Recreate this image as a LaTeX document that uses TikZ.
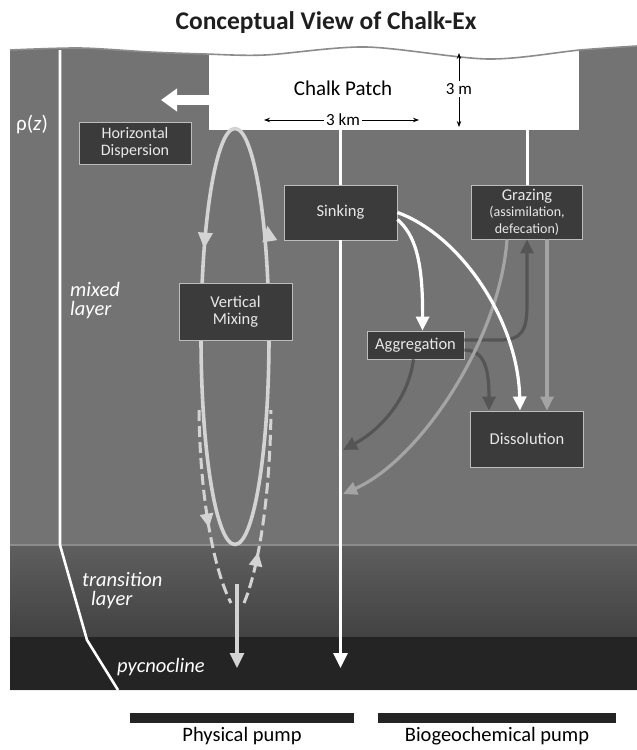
\documentclass[tikz,border=0pt]{standalone}
\usepackage{fontspec}
\setmainfont{Carlito}
\usetikzlibrary{arrows.meta,positioning,decorations.markings}

\definecolor{oceangray}{HTML}{737373}
\definecolor{boxfill}{HTML}{3B3B3B}
\definecolor{boxline}{HTML}{BDBDBD}
\definecolor{boxtext}{HTML}{E8E8E8}
\definecolor{mixgray}{HTML}{D3D3D3}
\definecolor{grazegray}{HTML}{A4A4A4}
\definecolor{agggray}{HTML}{555555}
\definecolor{deepgray}{HTML}{242424}
\definecolor{wavegray}{HTML}{8C8C8C}

\begin{document}
\begin{tikzpicture}
[x=1pt,y=-1pt,
process/.style={rectangle,draw=boxline,fill=boxfill,text=boxtext,line width=0.9pt,align=center,inner sep=0pt,font=\fontsize{16.5}{17}\selectfont},
layertext/.style={text=white,font=\fontsize{20.5}{19}\selectfont\itshape,align=left,inner sep=0pt},
stem/.style={white,line width=3pt},
flux/.style={white,line width=3.2pt,-{Triangle[length=14pt,width=13pt]}},
graze/.style={grazegray,line width=3.2pt,-{Triangle[length=14pt,width=13pt]}},
agg/.style={agggray,line width=3.2pt,-{Triangle[length=14pt,width=13pt]}},
mixloop/.style={mixgray,line width=3.6pt},
mixdash/.style={mixgray,line width=3pt,dash pattern=on 11pt off 5pt},
dim/.style={black,line width=0.8pt,-{Stealth[length=6pt,width=4.5pt]}},
pumpbar/.style={rectangle,fill=deepgray,inner sep=0pt,minimum height=10pt}]

\useasboundingbox (0,0) rectangle (637,750);

% Drawing the water column
\fill[oceangray] plot[smooth] coordinates {(10,50) (80,48) (150,52) (205,54) (265,55) (366,47) (488,59) (580,50) (637,46)} -- (637,690) -- (10,690) -- cycle;
\shade[top color=black!63,bottom color=black!74] (10,545) rectangle (637,637);
\fill[deepgray] (10,637) rectangle (637,690);
\draw[wavegray,line width=1.5pt] (10,545) -- (637,545);

% Drawing the chalk patch
\node[fill=white,minimum width=370pt,minimum height=86pt,inner sep=0pt] (patch) at (394,87) {};
\fill[white] plot[smooth] coordinates {(10,50) (80,48) (150,52) (205,54) (265,55) (366,47) (488,59) (580,50) (637,46)} -- (637,40) -- (10,40) -- cycle;
\draw[wavegray,line width=1.6pt] plot[smooth] coordinates {(10,50) (80,48) (150,52) (205,54) (265,55) (366,47) (488,59) (580,50) (637,46)};

\node[text=black!88,font=\fontsize{25.5}{26}\selectfont\bfseries] (title) at (326,23) {Conceptual View of Chalk-Ex};

\node[font=\fontsize{21}{21}\selectfont] (patchname) at (343,88) {Chalk Patch};
\node[font=\fontsize{17}{17}\selectfont,inner sep=2pt] (depth) at (459,89) {3 m};
\node[font=\fontsize{17}{17}\selectfont,inner sep=2pt] (extent) at (343,120) {3 km};
\coordinate (depthtop) at (459,53);
\coordinate (depthbot) at (459,127);
\coordinate (extentleft) at (264,120);
\coordinate (extentright) at (419,120);
\draw[dim] (depth) -- (depthtop);
\draw[dim] (depth) -- (depthbot);
\draw[dim] (extent) -- (extentleft);
\draw[dim] (extent) -- (extentright);

\coordinate (disptip) at (161,100);
\draw[white,line width=10pt,-{Triangle[length=16pt,width=22pt]}] (patch.west |- disptip) -- (disptip);

% Drawing the density profile
\coordinate (rhotop) at (60,50);
\coordinate (rhobend) at (60,545);
\coordinate (rhoknee) at (87,640);
\coordinate (rhobase) at (118,690);
\draw[white,line width=2.6pt] (rhotop) -- (rhobend) -- (rhoknee) -- (rhobase);

\node[text=white,font=\fontsize{21}{21}\selectfont] (rho) at (32,125) {ρ(\textit{z})};
\node[layertext,anchor=west] (mixed) at (70,301) {mixed\\layer};
\node[layertext,anchor=west] (transition) at (82,591) {transition\\\hspace*{9pt}layer};
\node[layertext,anchor=west] (pycno) at (117,667) {pycnocline};

% Drawing vertical mixing
\coordinate (mixc) at (235,336.5);
\draw[mixloop,postaction={decorate},decoration={markings,
  mark=at position 0.398 with {\arrow{Triangle[length=16pt,width=14pt]}},
  mark=at position 0.128 with {\arrow{Triangle[length=16pt,width=14pt]}}}]
  (mixc) ellipse [x radius=34pt,y radius=208pt];

\coordinate (dashlefttop) at (199,410);
\coordinate (dashleftbot) at (231,603);
\coordinate (dashrightbot) at (244,603);
\coordinate (dashrighttop) at (271,410);
\draw[mixdash,postaction={decorate},decoration={markings,mark=at position 0.6 with {\arrow{Triangle[length=14pt,width=13pt]}}}]
  (dashlefttop) .. controls (200,500) and (214,570) .. (dashleftbot);
\draw[mixdash,postaction={decorate},decoration={markings,mark=at position 0.27 with {\arrow{Triangle[length=14pt,width=13pt]}}}]
  (dashrightbot) .. controls (258,570) and (270,500) .. (dashrighttop);

\coordinate (mixout) at (237,584);
\coordinate (mixsink) at (237,668);
\draw[mixgray,line width=3.2pt,-{Triangle[length=15pt,width=14pt]}] (mixout) -- (mixsink);

% Drawing processes
\node[process,minimum width=112pt,minimum height=42pt,font=\fontsize{16}{17}\selectfont] (hdisp) at (135,143) {Horizontal\\Dispersion};
\node[process,minimum width=113pt,minimum height=57pt] (vmix) at (235.5,311.5) {Vertical\\Mixing};
\node[process,minimum width=113pt,minimum height=55pt] (sink) at (340.5,212.5) {Sinking};
\node[process,minimum width=111pt,minimum height=54pt] (graz) at (527,212) {Grazing\\[-1pt]{\fontsize{14}{14}\selectfont (assimilation,}\\{\fontsize{14}{14}\selectfont defecation)}};
\node[process,minimum width=97pt,minimum height=28pt] (agg) at (415.5,345) {Aggregation};
\node[process,minimum width=113pt,minimum height=56pt] (diss) at (527,439) {Dissolution};

% Drawing connections
\coordinate (sinkend) at (340.5,668);
\coordinate (agghit) at (343,450);
\coordinate (grzhit) at (343,494);

\draw[stem] (patch.south -| sink) -- (sink);
\draw[stem] (patch.south -| graz) -- (graz);
\draw[stem,-{Triangle[length=15pt,width=14pt]}] (sink) -- (sinkend);

\draw[agg] ([yshift=5pt]agg.east) -- (500,340) .. controls (522,340) and (527,330) .. (527,305) -- (graz.south);
\draw[agg] ([yshift=-5pt]agg.east) .. controls (485,350) and (489,370) .. ([xshift=-38pt]diss.north);
\draw[agg] ([xshift=-2pt]agg.south) .. controls (408,400) and (380,430) .. (agghit);

\draw[graze] ([xshift=-20pt]graz.south) .. controls (500,340) and (420,460) .. (grzhit);
\draw[graze] ([xshift=20pt]graz.south) -- ([xshift=20pt]diss.north);

\draw[flux] ([yshift=-7pt]sink.east) .. controls (415,235) and (423,260) .. ([xshift=7pt]agg.north);
\draw[flux] (sink.east) .. controls (460,235) and (518,320) .. ([xshift=-7pt]diss.north);

% Drawing the pumps
\node[pumpbar,minimum width=224pt] (physbar) at (242,718) {};
\node[pumpbar,minimum width=238pt] (biobar) at (497,718) {};
\node[below=1pt of physbar,font=\fontsize{20.5}{20}\selectfont] (physlabel) {Physical pump};
\node[below=1pt of biobar,font=\fontsize{20.5}{20}\selectfont] (biolabel) {Biogeochemical pump};
\end{tikzpicture}
\end{document}
